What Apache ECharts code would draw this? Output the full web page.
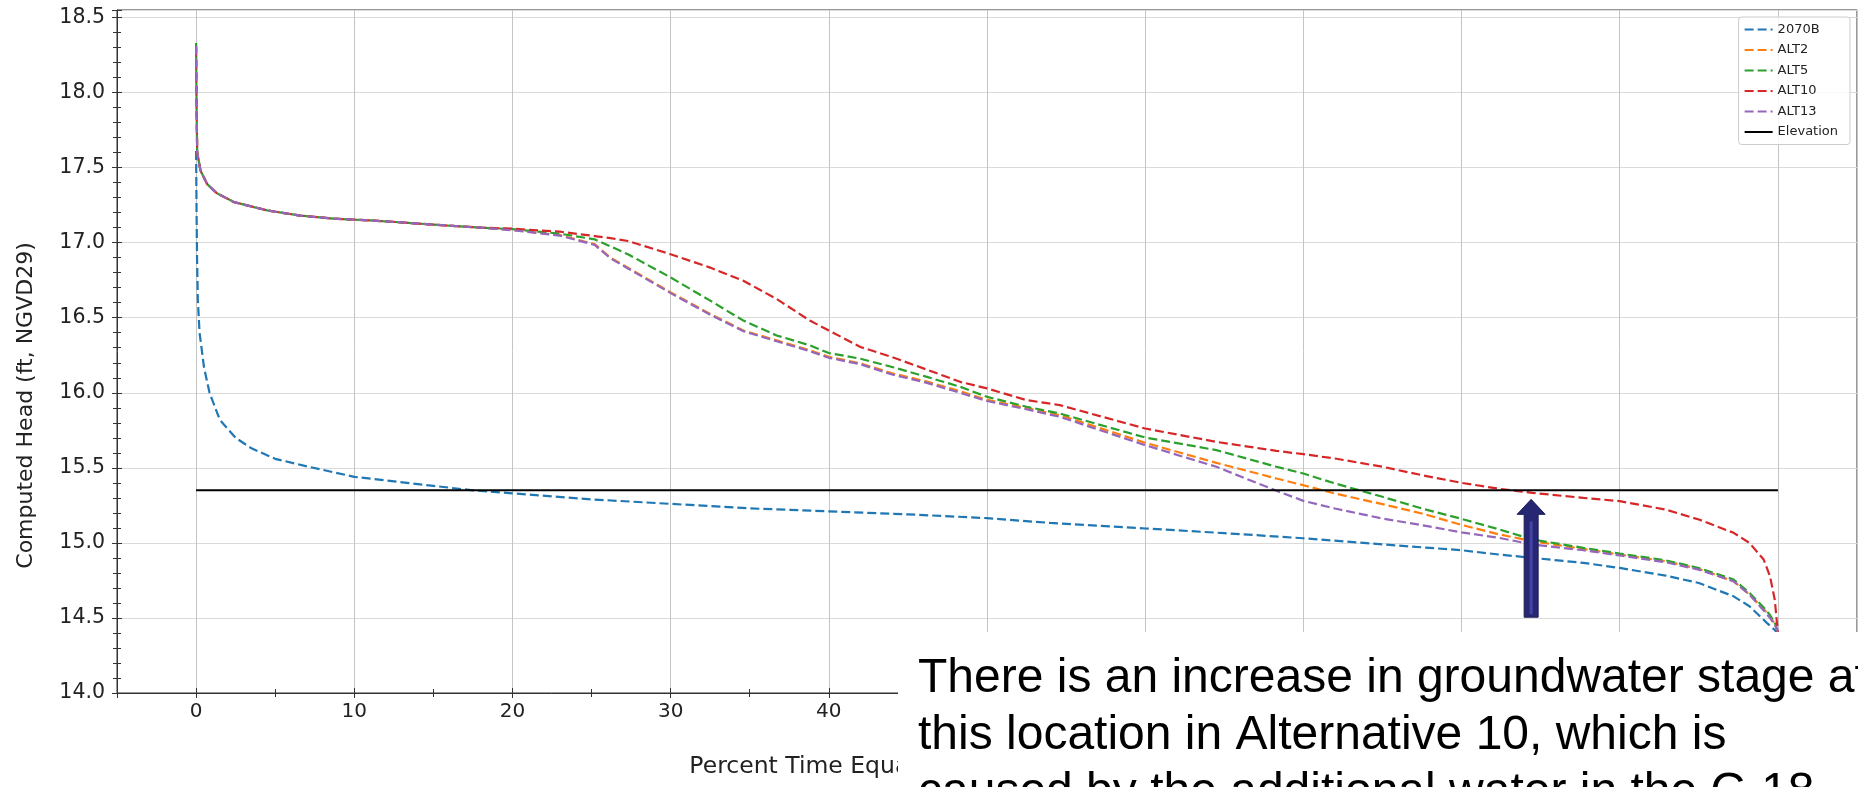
<!DOCTYPE html>
<html>
<head>
<meta charset="utf-8">
<script src="https://cdn.jsdelivr.net/npm/echarts@6/dist/echarts.min.js"></script>
<style>
html,body{margin:0;padding:0;background:#fff;}
#chart{width:1858px;height:787px;}
</style>
</head>
<body>
<div id="chart"></div>
<script>
// ---------- data ----------
const SERIES_NAMES = ['2070B', 'ALT2', 'ALT5', 'ALT10', 'ALT13', 'Elevation'];

const X_BASE = [0, 0.03, 0.06, 0.11, 0.22, 0.5, 0.85, 1.5, 2.5, 3.5, 5, 7, 10, 15, 17.5, 20, 25, 30, 35, 40, 45, 50, 54, 60, 65, 70, 75, 80, 82.4, 84.5, 87.7, 90, 92.9, 95, 97.2, 98.2, 99.3, 99.8, 100];
const Y_2070B = [17.61, 17.2, 16.9, 16.62, 16.40, 16.17, 16.0, 15.82, 15.70, 15.63, 15.56, 15.51, 15.44, 15.38, 15.35, 15.33, 15.29, 15.26, 15.23, 15.21, 15.19, 15.165, 15.133, 15.096, 15.065, 15.031, 14.99, 14.951, 14.922, 14.9, 14.867, 14.833, 14.782, 14.733, 14.644, 14.578, 14.467, 14.42, 14.39];

const X_ALT = [0, 0.03, 0.07, 0.28, 0.7, 1.3, 2.4, 4.5, 6.6, 8.7, 11, 13, 15, 18, 20, 23, 25.2, 26.2, 27.3, 30, 32.5, 34.6, 36.7, 38.8, 40, 42, 44, 46.2, 48.3, 50, 52.5, 54.6, 60, 64.5, 68.3, 70, 72, 75, 77.5, 80, 82.4, 84.5, 87.7, 90, 92.9, 95, 97.2, 98.2, 99.1, 99.5, 99.8, 100];

const Y_ALT2 = [18.31, 17.9, 17.6, 17.48, 17.39, 17.33, 17.27, 17.215, 17.18, 17.16, 17.148, 17.135, 17.12, 17.10, 17.085,
  17.05, 16.99, 16.9, 16.834, 16.669, 16.525, 16.415, 16.349, 16.283, 16.24, 16.196, 16.13, 16.075, 16.01, 15.953, 15.898, 15.851,
  15.667, 15.533, 15.429, 15.384, 15.329, 15.258, 15.196, 15.12, 15.056, 15.011, 14.96, 14.922, 14.878, 14.827, 14.744, 14.656, 14.56, 14.51, 14.46, 14.41];

const Y_ALT5 = [18.33, 17.9, 17.6, 17.48, 17.39, 17.33, 17.27, 17.215, 17.18, 17.16, 17.148, 17.135, 17.12, 17.10, 17.09,
  17.06, 17.022, 16.975, 16.923, 16.768, 16.614, 16.481, 16.382, 16.316, 16.265, 16.227, 16.172, 16.106, 16.04, 15.973, 15.907, 15.862,
  15.702, 15.618, 15.507, 15.462, 15.396, 15.307, 15.229, 15.16, 15.089, 15.022, 14.967, 14.929, 14.884, 14.833, 14.756, 14.667, 14.57, 14.52, 14.467, 14.41];

const Y_ALT10 = [18.30, 17.9, 17.6, 17.48, 17.39, 17.33, 17.27, 17.215, 17.18, 17.16, 17.148, 17.135, 17.12, 17.10, 17.093,
  17.073, 17.044, 17.03, 17.011, 16.923, 16.834, 16.746, 16.625, 16.481, 16.415, 16.305, 16.238, 16.154, 16.073, 16.029, 15.951, 15.918,
  15.762, 15.673, 15.613, 15.591, 15.562, 15.507, 15.451, 15.40, 15.36, 15.333, 15.30, 15.278, 15.222, 15.156, 15.067, 15.0, 14.889, 14.778, 14.622, 14.40];

const Y_ALT13 = [18.31, 17.9, 17.6, 17.48, 17.39, 17.33, 17.27, 17.215, 17.18, 17.16, 17.148, 17.135, 17.12, 17.10, 17.083,
  17.047, 16.985, 16.895, 16.828, 16.664, 16.52, 16.41, 16.343, 16.277, 16.233, 16.19, 16.122, 16.066, 16.0, 15.945, 15.89, 15.84,
  15.651, 15.507, 15.347, 15.28, 15.229, 15.162, 15.118, 15.07, 15.033, 14.989, 14.951, 14.916, 14.871, 14.822, 14.744, 14.656, 14.55, 14.5, 14.455, 14.41];

const X_ELEV = [0, 100];
const Y_ELEV = [15.35, 15.35];

const X_MIN = -5, X_MAX = 105;
const Y_MIN = 14.0, Y_MAX = 18.55, Y_STEP = 0.5;

const X_AXIS_NAME = 'Percent Time Equaled or Exceeded';
const Y_AXIS_NAME = 'Computed Head (ft, NGVD29)';
const NOTE_LINES = [
  'There is an increase in groundwater stage at',
  'this location in Alternative 10, which is',
  'caused by the additional water in the C-18'
];
// arrow anchor in data units
const ARROW_X = 84.4, ARROW_TIP = 15.29, ARROW_BASE = 14.505;

// ---------- chart ----------
const COLORS = ['#1f77b4', '#ff7f0e', '#2ca02c', '#d62728', '#9467bd', '#000000'];
function zip(xs, ys) { return xs.map((x, i) => [x, ys[i]]); }

const chart = echarts.init(document.getElementById('chart'), null, { renderer: 'canvas' });
const FONT = 'DejaVu Sans';

function dashed(name, xs, ys, color) {
  return {
    name: name, type: 'line', data: zip(xs, ys), showSymbol: false, symbol: 'none',
    xAxisIndex: 0, yAxisIndex: 0,
    lineStyle: { color: color, width: 2.2, type: [9, 4] },
    itemStyle: { color: color }
  };
}

const option = {
  animation: false,
  backgroundColor: '#ffffff',
  grid: { left: 117, right: 1, top: 10, bottom: 94, show: true, borderColor: '#333', borderWidth: 1, backgroundColor: 'transparent' },
  legend: {
    data: SERIES_NAMES, orient: 'vertical', right: 8, top: 17,
    backgroundColor: 'rgba(255,255,255,0.85)', borderColor: '#cccccc', borderWidth: 1, borderRadius: 3,
    padding: [6, 12, 6, 5], itemWidth: 28, itemHeight: 14, itemGap: 7.5,
    itemStyle: { opacity: 0 },
    textStyle: { fontFamily: FONT, fontSize: 13, color: '#222' }
  },
  xAxis: [{
    type: 'value', min: X_MIN, max: X_MAX, splitNumber: 11,
    name: X_AXIS_NAME, nameLocation: 'middle', nameGap: 62,
    nameTextStyle: { fontFamily: FONT, fontSize: 23.5, color: '#222', align: 'center', padding: [0, 186, 0, 0] },
    axisLine: { show: true, onZero: false, lineStyle: { color: '#333', width: 1 } },
    axisTick: { show: true, length: 5, lineStyle: { color: '#333', width: 1 } },
    minorTick: { show: true, splitNumber: 2, length: 4, lineStyle: { color: '#333', width: 1 } },
    axisLabel: { fontFamily: FONT, fontSize: 20, color: '#222', margin: 9, showMinLabel: false, showMaxLabel: false },
    splitLine: { show: true, lineStyle: { color: '#c4c4c4', width: 1 } }
  }, {
    type: 'value', min: X_MIN, max: X_MAX, splitNumber: 11, position: 'bottom', gridIndex: 0,
    axisLine: { show: false, onZero: false }, axisLabel: { show: false }, splitLine: { show: false },
    axisTick: { show: true, inside: true, length: 5, lineStyle: { color: '#333', width: 1 } },
    minorTick: { show: true, splitNumber: 2, length: 4, lineStyle: { color: '#333', width: 1 } }
  }],
  yAxis: [{
    type: 'value', min: Y_MIN, max: Y_MAX, interval: Y_STEP,
    name: Y_AXIS_NAME, nameLocation: 'middle', nameGap: 80, nameRotate: 90,
    nameTextStyle: { fontFamily: FONT, fontSize: 22, color: '#222', align: 'center', padding: [0, 108, 0, 0] },
    axisLine: { show: true, onZero: false, lineStyle: { color: '#333', width: 1 } },
    axisTick: { show: true, length: 5, lineStyle: { color: '#333', width: 1 } },
    minorTick: { show: true, splitNumber: 5, length: 4, lineStyle: { color: '#333', width: 1 } },
    axisLabel: { fontFamily: FONT, fontSize: 20.5, color: '#222', margin: 12, showMaxLabel: true,
      formatter: v => (Math.abs(v / Y_STEP - Math.round(v / Y_STEP)) < 1e-6 ? v.toFixed(1) : '') },
    splitLine: { show: true, lineStyle: { color: '#dadada', width: 1 } }
  }, {
    type: 'value', min: Y_MIN, max: Y_MAX, interval: Y_STEP, position: 'left', gridIndex: 0,
    axisLine: { show: false, onZero: false }, axisLabel: { show: false }, splitLine: { show: false },
    axisTick: { show: true, inside: true, length: 5, lineStyle: { color: '#333', width: 1 } },
    minorTick: { show: true, splitNumber: 5, length: 4, lineStyle: { color: '#333', width: 1 } }
  }],
  series: [
    dashed(SERIES_NAMES[0], X_BASE, Y_2070B, COLORS[0]),
    dashed(SERIES_NAMES[1], X_ALT, Y_ALT2, COLORS[1]),
    dashed(SERIES_NAMES[2], X_ALT, Y_ALT5, COLORS[2]),
    dashed(SERIES_NAMES[3], X_ALT, Y_ALT10, COLORS[3]),
    dashed(SERIES_NAMES[4], X_ALT, Y_ALT13, COLORS[4]),
    {
      name: SERIES_NAMES[5], type: 'line', data: zip(X_ELEV, Y_ELEV), showSymbol: false, symbol: 'none',
      xAxisIndex: 0, yAxisIndex: 0,
      lineStyle: { color: COLORS[5], width: 2, type: 'solid' }, itemStyle: { color: COLORS[5] }
    }
  ]
};
chart.setOption(option);

// ---------- annotation (arrow + note box) ----------
const tip = chart.convertToPixel({ gridIndex: 0 }, [ARROW_X, ARROW_TIP]);
const base = chart.convertToPixel({ gridIndex: 0 }, [ARROW_X, ARROW_BASE]);
const cx = tip[0], ty = tip[1], by = base[1];
const headH = 15, headW = 14, shaftW = 7;

chart.setOption({
  graphic: [
    {
      type: 'polygon', z: 50,
      shape: { points: [[cx, ty], [cx + headW, ty + headH], [cx + shaftW, ty + headH], [cx + shaftW, by], [cx - shaftW, by], [cx - shaftW, ty + headH], [cx - headW, ty + headH]] },
      style: { fill: '#262672', stroke: '#1c1c58', lineWidth: 1 }
    },
    {
      type: 'rect', z: 51,
      shape: { x: cx - 1.5, y: ty + headH + 7, width: 3, height: by - ty - headH - 10 },
      style: { fill: '#4444a6' }
    },
    {
      type: 'rect', z: 90, left: 898, top: 632,
      shape: { x: 0, y: 0, width: 960, height: 155 },
      style: { fill: '#ffffff' }
    },
    {
      type: 'text', z: 91, left: 918, top: 650,
      style: {
        text: NOTE_LINES.join('\n'),
        font: '48px "Liberation Sans", Arial, sans-serif',
        lineHeight: 57, fill: '#000000'
      }
    }
  ]
});
</script>
</body>
</html>
